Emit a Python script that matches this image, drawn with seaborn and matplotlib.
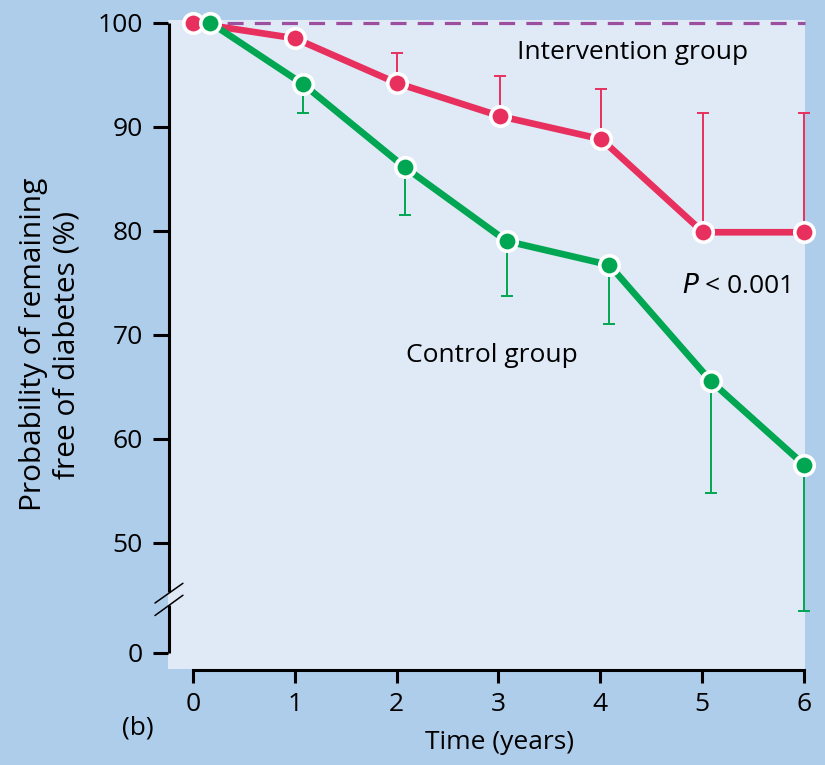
import numpy as np
import pandas as pd
import matplotlib
matplotlib.use("Agg")
import matplotlib.pyplot as plt
import seaborn as sns

# ข้อมูล (probability of remaining free of diabetes, %)
years_int = [0.0, 1.0, 2.0, 3.02, 4.01, 5.01, 6.0]
prob_int = [100.0, 98.5, 94.2, 91.0, 88.8, 79.85, 79.85]
err_int_up = [0.0, 0.0, 2.9, 3.9, 4.8, 11.45, 11.45]

years_ctl = [0.17, 1.08, 2.08, 3.08, 4.09, 5.09, 6.0]
prob_ctl = [100.0, 94.1, 86.1, 79.0, 76.7, 65.5, 57.5]
err_ctl_low = [0.0, 2.8, 4.6, 5.25, 5.7, 10.75, 14.1]

x_ticks = [0, 1, 2, 3, 4, 5, 6]
y_ticks = [0, 50, 60, 70, 80, 90, 100]

red = "#e8305e"
green = "#00a651"
purple = "#9b4f9e"
outer_bg = "#aecdeb"
inner_bg = "#dfeaf6"

df = pd.DataFrame({
    "time": years_int + years_ctl,
    "prob": prob_int + prob_ctl,
    "group": ["Intervention"] * len(years_int) + ["Control"] * len(years_ctl),
})

sns.set_style("white")
plt.rcParams["font.family"] = ["Open Sans", "DejaVu Sans"]
plt.rcParams["text.color"] = "black"
plt.rcParams["axes.labelcolor"] = "black"
plt.rcParams["xtick.color"] = "black"
plt.rcParams["ytick.color"] = "black"

fig = plt.figure(figsize=(8.25, 7.65), dpi=100, facecolor=outer_bg)
ax = fig.add_axes([0.2036, 0.1255, 0.7721, 0.8484])
ax.set_facecolor(inner_bg)

# broken y axis: linear above 42, squeezed below so 0 sits just under 50
thr, zero_pos = 42.0, 39.4
k = (thr - zero_pos) / thr


def fwd(y):
    y = np.asarray(y, dtype=float)
    return np.where(y >= thr, y, zero_pos + y * k)


def inv(v):
    v = np.asarray(v, dtype=float)
    return np.where(v >= thr, v, (v - zero_pos) / k)


ax.set_yscale("function", functions=(fwd, inv))

# dashed reference at 100 %
ax.axhline(100, xmin=0.05, xmax=1.0, color=purple, lw=2.3, ls=(0, (5, 3.5)), zorder=1)

# error bars (one-sided)
ax.errorbar(years_int, prob_int, yerr=[np.zeros(len(err_int_up)), err_int_up],
            fmt="none", ecolor=red, elinewidth=1.4, capsize=4.5, capthick=1.4, zorder=2)
ax.errorbar(years_ctl, prob_ctl, yerr=[err_ctl_low, np.zeros(len(err_ctl_low))],
            fmt="none", ecolor=green, elinewidth=1.4, capsize=4.5, capthick=1.4, zorder=2)

sns.lineplot(data=df, x="time", y="prob", hue="group",
             palette={"Intervention": red, "Control": green},
             hue_order=["Intervention", "Control"],
             marker="o", markersize=14, markeredgecolor="white", markeredgewidth=2.6,
             linewidth=4.8, sort=False, legend=False, ax=ax, zorder=3)
for ln in ax.lines:
    ln.set_clip_on(False)
for c in ax.collections:
    c.set_clip_on(False)

ax.set_xlim(-0.245, 6.01)
ax.set_ylim(-24.9, 100.26)
ax.set_xticks(x_ticks)
ax.set_yticks(y_ticks)
ax.set_xticklabels([str(t) for t in x_ticks])
ax.set_yticklabels([str(t) for t in y_ticks])
ax.tick_params(axis="y", length=11, width=2.2, pad=7, labelsize=19, color="black", left=True)
ax.tick_params(axis="x", length=9.5, width=2.2, pad=6, labelsize=19, color="black", bottom=True)

for s in ["top", "right", "left"]:
    ax.spines[s].set_visible(False)
ax.spines["bottom"].set_bounds(0, 6)
ax.spines["bottom"].set_linewidth(2.2)
ax.spines["bottom"].set_color("black")
ax.spines["bottom"].set_position(("outward", 1))

# left axis drawn in two pieces with a break mark
trans = ax.get_yaxis_transform()
ax.plot([0.0015, 0.0015], [100, 45.25], color="black", lw=2.2, transform=trans,
        clip_on=False, solid_capstyle="butt")
ax.plot([0.0015, 0.0015], [44.0, 0], color="black", lw=2.2, transform=trans,
        clip_on=False, solid_capstyle="butt")
ax.plot([-0.0204, 0.0235], [44.2, 46.1], color="black", lw=1.1, transform=trans, clip_on=False)
ax.plot([-0.0204, 0.0235], [43.0, 44.95], color="black", lw=1.1, transform=trans, clip_on=False)

ax.set_xlabel("Time (years)", fontsize=19, va="center")
ax.xaxis.set_label_coords(0.52, -0.113)
ax.set_ylabel("Probability of remaining\nfree of diabetes (%)", fontsize=21.5,
              linespacing=1.2, va="center")
ax.yaxis.set_label_coords(-0.185, 0.5)

ax.text(4.32, 97.1, "Intervention group", fontsize=19, ha="center", va="center")
ax.text(2.94, 68.0, "Control group", fontsize=19, ha="center", va="center")
ax.text(5.33, 74.6, r"$\it{P}$ < 0.001", fontsize=19, ha="center", va="center")
fig.text(0.167, 0.048, "(b)", fontsize=19, ha="center", va="center")

fig.savefig("out.png", dpi=100, facecolor=outer_bg)
